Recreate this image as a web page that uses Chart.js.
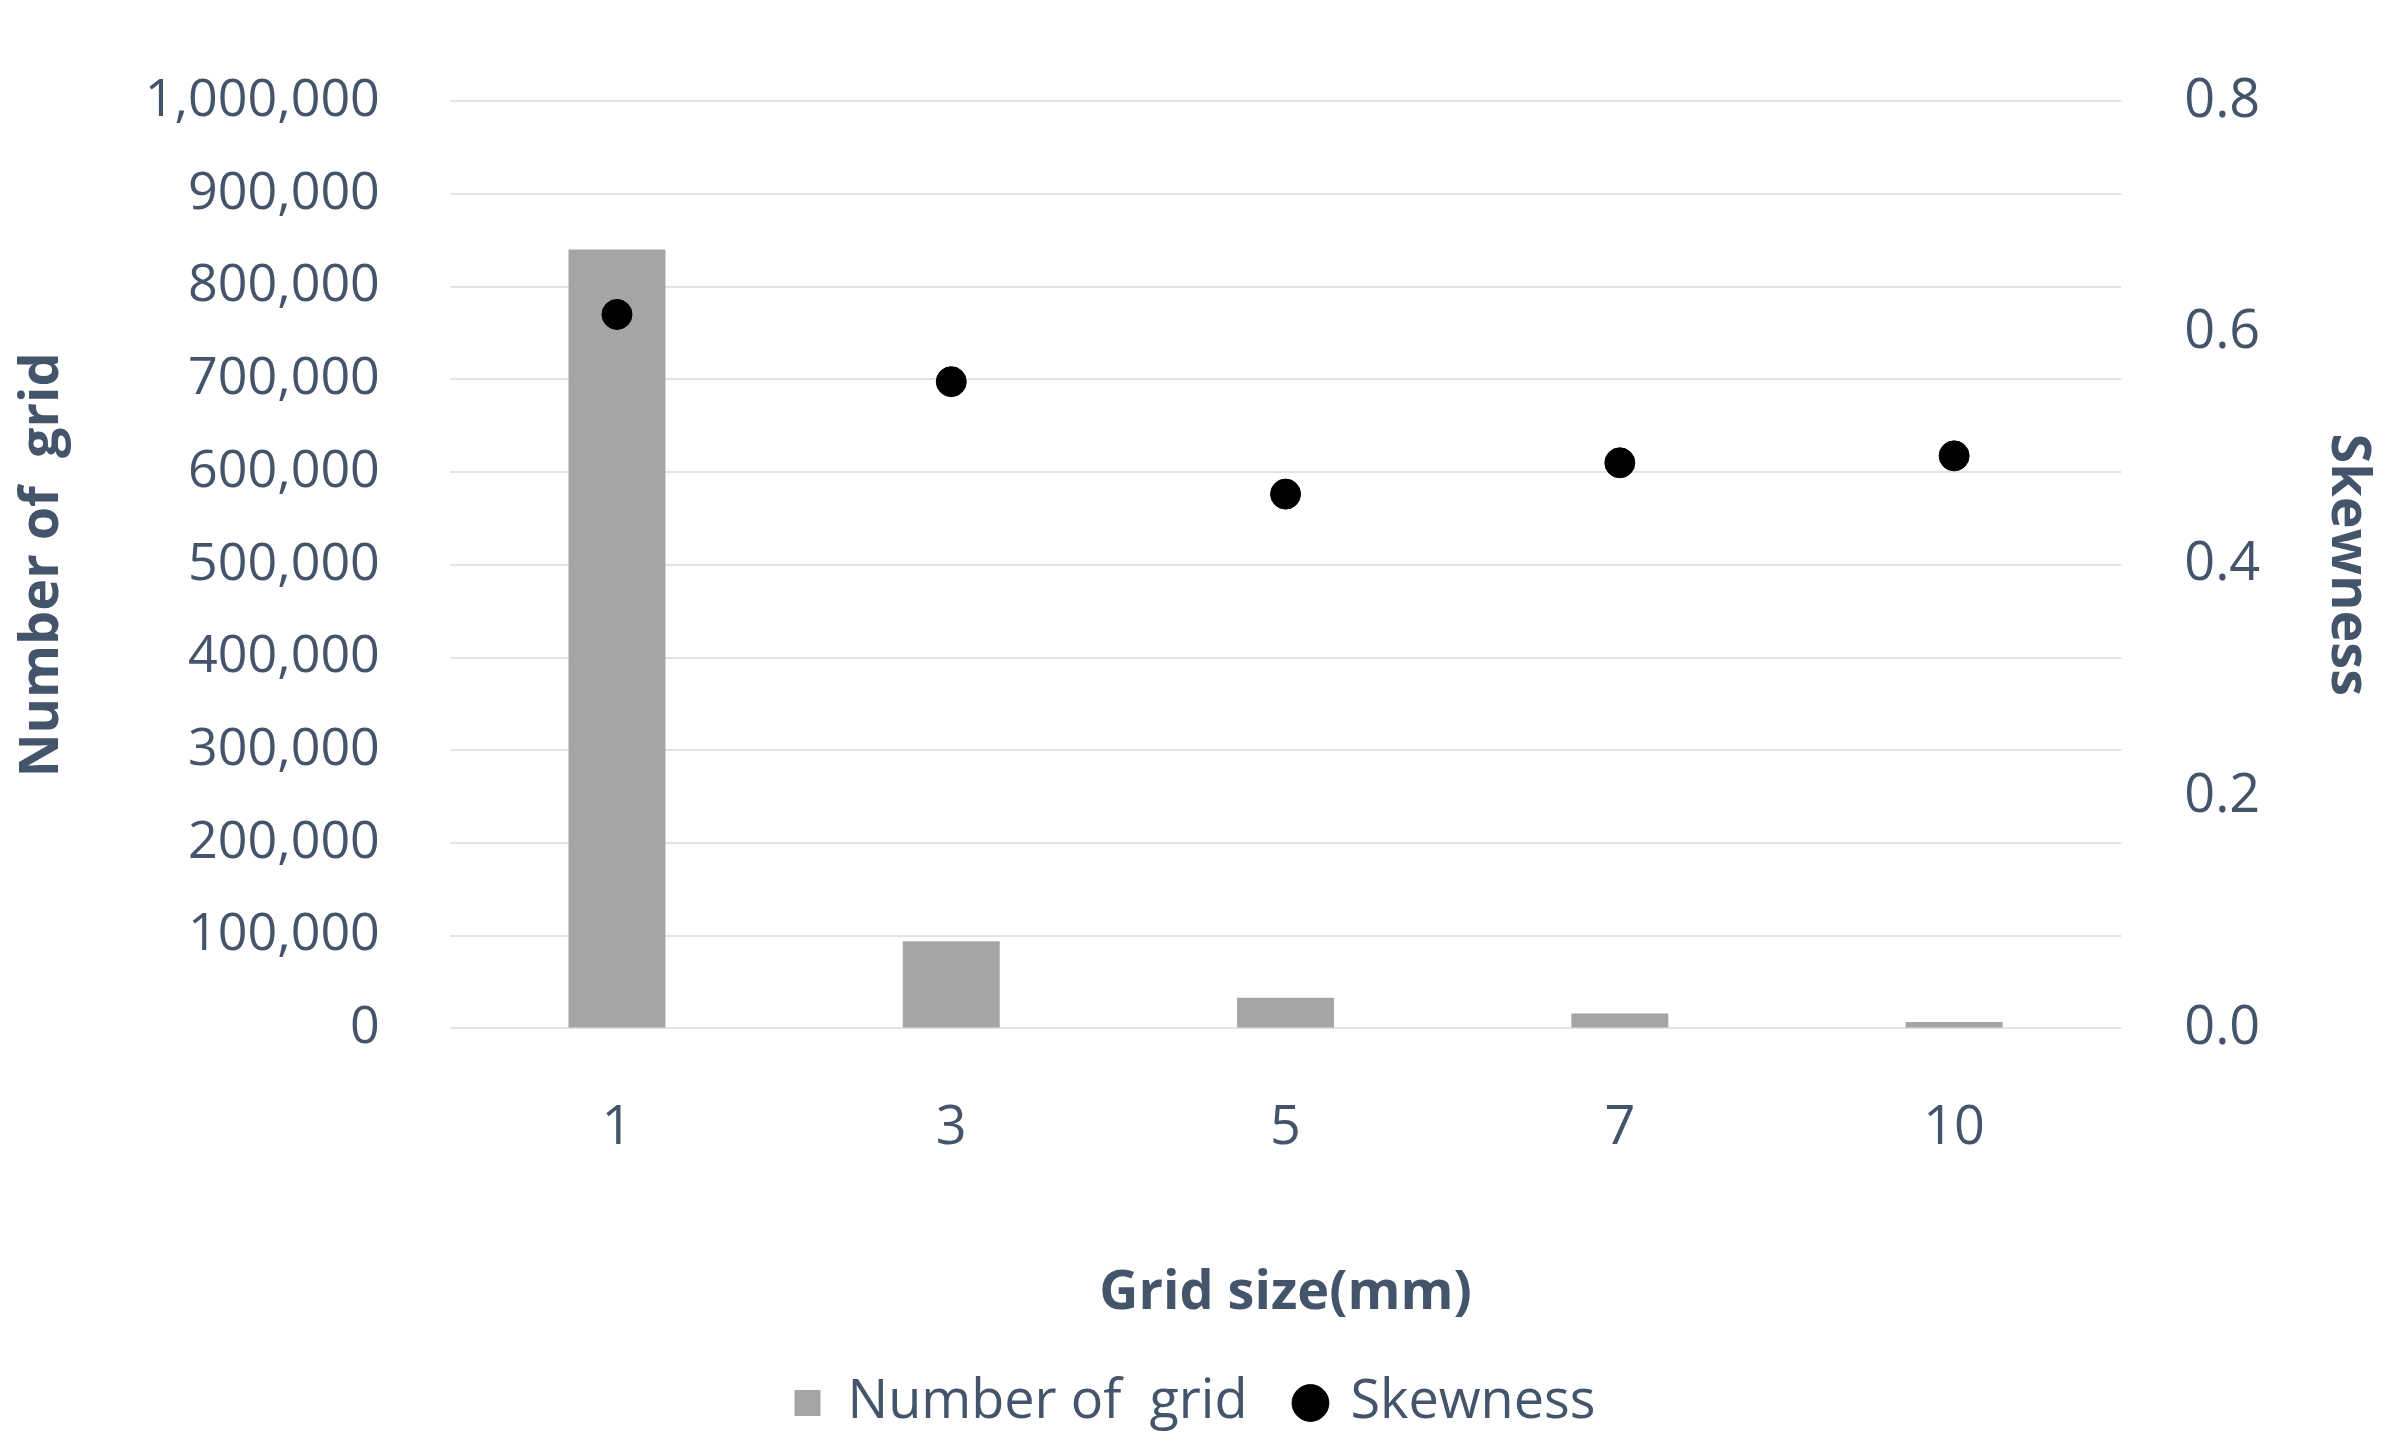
<!DOCTYPE html>
<html>
<head>
<meta charset="utf-8">
<script src="https://cdn.jsdelivr.net/npm/chart.js@4"></script>
<style>
  html, body { margin: 0; padding: 0; background: #fff; }
  #wrap { width: 2400px; height: 1450px; }
</style>
</head>
<body>
<div id="wrap"><canvas id="c" width="2400" height="1450"></canvas></div>
<script>
// ── Data ─────────────────────────────────────────────────────────────────────
const gridSizes = ["1", "3", "5", "7", "10"];
const numberOfGrid = [840000, 94000, 33000, 16000, 7000];
const skewness = [0.616, 0.558, 0.461, 0.488, 0.494];

const TEXT = "#44546a";
const FONT = "'Open Sans', sans-serif";

Chart.defaults.color = TEXT;
Chart.defaults.font.family = FONT;

new Chart(document.getElementById("c"), {
  data: {
    labels: gridSizes,
    datasets: [
      {
        type: "line",
        label: "Skewness",
        data: skewness,
        yAxisID: "y1",
        showLine: false,
        pointStyle: "circle",
        pointRadius: 15,
        pointBackgroundColor: "#000",
        pointBorderColor: "#000",
        backgroundColor: "#000",
        order: 0,
      },
      {
        type: "bar",
        label: "Number of  grid",
        data: numberOfGrid,
        yAxisID: "y",
        backgroundColor: "#a5a5a5",
        categoryPercentage: 1,
        barPercentage: 0.29,
        pointStyle: "rect",
        order: 1,
      },
    ],
  },
  options: {
    responsive: false,
    animation: false,
    devicePixelRatio: 1,
    layout: { padding: { left: 10, right: 20, top: 0, bottom: 10 } },
    plugins: {
      legend: {
        position: "bottom",
        reverse: true,
        labels: {
          usePointStyle: true,
          boxWidth: 26, boxHeight: 26,
          padding: 50,
          color: TEXT,
          font: { size: 54, family: FONT },
        },
      },
      tooltip: { enabled: false },
    },
    scales: {
      x: {
        grid: { display: false },
        border: { display: false },
        ticks: { color: TEXT, font: { size: 54 }, padding: 60 },
        title: { display: true, text: "Grid size(mm)", color: TEXT, font: { size: 54, weight: "bold" }, padding: { top: 40, bottom: 0 } },
      },
      y: {
        position: "left",
        min: 0, max: 1000000,
        ticks: { stepSize: 100000, color: TEXT, font: { size: 52 }, padding: 70,
          callback: v => v.toLocaleString("en-US") },
        grid: { color: "#e3e3e3", lineWidth: 2, drawTicks: false },
        border: { display: false },
        title: { display: true, text: "Number of  grid", color: TEXT, font: { size: 54, weight: "bold" }, padding: 0 },
      },
      y1: {
        position: "right",
        min: 0, max: 0.8,
        ticks: { stepSize: 0.2, color: TEXT, font: { size: 54 }, padding: 55,
          callback: v => v.toFixed(1) },
        grid: { display: false },
        border: { display: false },
        title: { display: true, text: "Skewness", color: TEXT, font: { size: 54, weight: "bold" }, padding: 0 },
      },
    },
  },
});
</script>
</body>
</html>
